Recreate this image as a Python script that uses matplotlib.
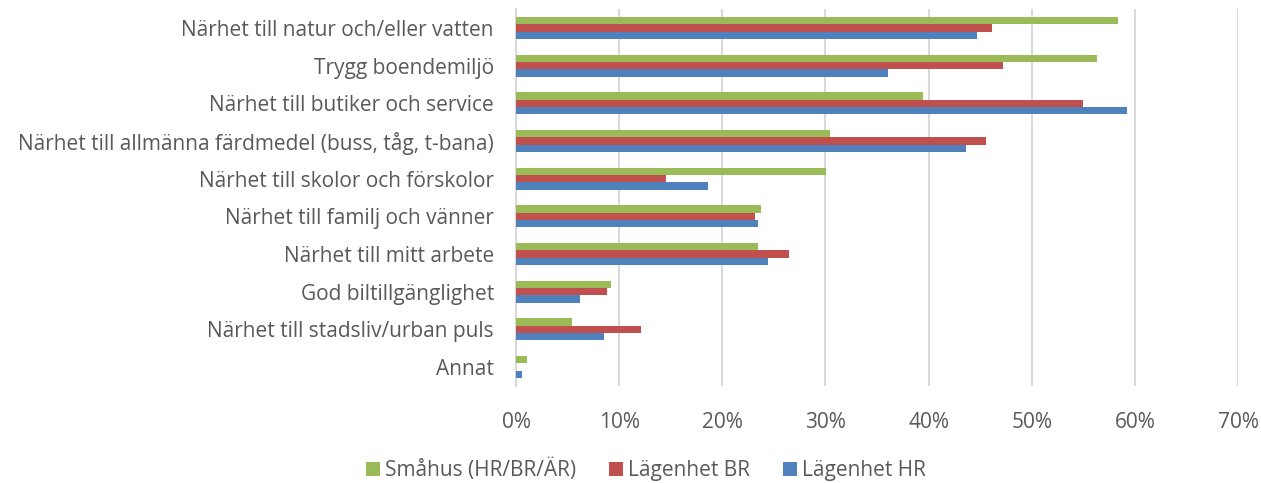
import numpy as np
import matplotlib.pyplot as plt
from matplotlib.ticker import PercentFormatter

plt.rcParams['font.family'] = ['Open Sans', 'DejaVu Sans']

categories = [
    "Närhet till natur och/eller vatten",
    "Trygg boendemiljö",
    "Närhet till butiker och service",
    "Närhet till allmänna färdmedel (buss, tåg, t-bana)",
    "Närhet till skolor och förskolor",
    "Närhet till familj och vänner",
    "Närhet till mitt arbete",
    "God biltillgänglighet",
    "Närhet till stadsliv/urban puls",
    "Annat",
]

smahus = [58.4, 56.3, 39.5, 30.4, 30.1, 23.8, 23.5, 9.2, 5.4, 1.1]
lgh_br = [46.1, 47.2, 55.0, 45.6, 14.5, 23.2, 26.5, 8.8, 12.1, 0.0]
lgh_hr = [44.7, 36.1, 59.2, 43.6, 18.6, 23.5, 24.4, 6.2, 8.5, 0.6]

series = [
    ("Småhus (HR/BR/ÄR)", smahus, "#9BBB59"),
    ("Lägenhet BR", lgh_br, "#C0504D"),
    ("Lägenhet HR", lgh_hr, "#4F81BD"),
]

text_col = "#595959"
grid_col = "#D9D9D9"
fs = 15

fig = plt.figure(figsize=(12.61, 4.83), dpi=100)
ax = fig.add_axes([0.4092, 0.2008, 0.5726, 0.7806])

y = np.arange(len(categories))
h = 0.195
for i, (name, vals, col) in enumerate(series):
    ax.barh(y + (i - 1) * h, vals, height=h, color=col, label=name, zorder=3)

ax.set_ylim(len(categories) - 0.5, -0.5)
ax.set_xlim(0, 70)
ax.set_xticks(np.arange(0, 71, 10))
ax.xaxis.set_major_formatter(PercentFormatter(decimals=0))
ax.set_yticks(y)
ax.set_yticklabels(categories)

ax.grid(axis="x", color=grid_col, linewidth=1.5, zorder=0)
for s in ["top", "right", "bottom"]:
    ax.spines[s].set_visible(False)
ax.spines["left"].set_color(grid_col)
ax.spines["left"].set_linewidth(1.5)
ax.tick_params(axis="both", length=0, labelsize=fs, labelcolor=text_col)
ax.tick_params(axis="y", pad=16)
ax.tick_params(axis="x", pad=19)

fig.legend(loc="center", bbox_to_anchor=(646 / 1261, 1 - 470 / 483), ncol=3,
           frameon=False, fontsize=fs, labelcolor=text_col,
           handlelength=0.65, handleheight=0.65, handletextpad=0.25,
           columnspacing=1.6)

fig.savefig("out.png", dpi=100)
